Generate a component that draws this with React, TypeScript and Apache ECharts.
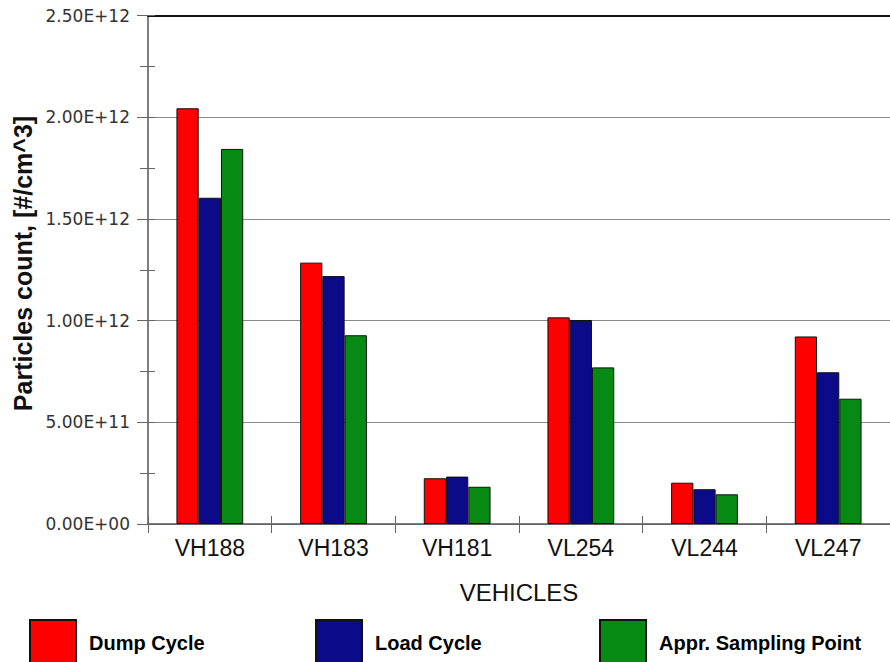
import React, { useEffect, useRef } from "react";
import * as echarts from "echarts";

const categories = ["VH188", "VH183", "VH181", "VL254", "VL244", "VL247"];
const dumpCycle = [2.044e12, 1.285e12, 0.225e12, 1.016e12, 0.203e12, 0.922e12];
const loadCycle = [1.604e12, 1.219e12, 0.233e12, 1.003e12, 0.171e12, 0.746e12];
const apprSampling = [1.844e12, 0.928e12, 0.183e12, 0.77e12, 0.146e12, 0.616e12];
const seriesNames = ["Dump Cycle", "Load Cycle", "Appr. Sampling Point"];
const colors = ["#ff0000", "#0b0b8a", "#078a14"];
const yAxisTitle = "Particles count, [#/cm^3]";
const xAxisTitle = "VEHICLES";

function fmtE(v: number): string {
  const [m, e] = v.toExponential(2).split("e");
  const n = parseInt(e, 10);
  return m + "E" + (n < 0 ? "-" : "+") + String(Math.abs(n)).padStart(2, "0");
}

export default function App() {
  const ref = useRef<HTMLDivElement>(null);
  useEffect(() => {
    if (!ref.current) return;
    const chart = echarts.init(ref.current, undefined, { renderer: "svg" });
    const values = [dumpCycle, loadCycle, apprSampling];
    const legendLefts = [29, 315, 599];
    chart.setOption({
      animation: false,
      backgroundColor: "#ffffff",
      grid: { left: 148, top: 15.5, width: 750, height: 508.5, containLabel: false },
      legend: seriesNames.map((name, i) => ({
        data: [name],
        left: legendLefts[i],
        top: 619,
        padding: 0,
        itemWidth: 46,
        itemHeight: 46,
        icon: "rect",
        selectedMode: false,
        textStyle: {
          fontFamily: "Liberation Sans",
          fontWeight: "bold",
          fontSize: 20,
          color: "#000",
          padding: [0, 0, 0, 8],
        },
      })),
      xAxis: [
        {
          type: "category",
          data: categories,
          position: "bottom",
          name: xAxisTitle,
          nameLocation: "middle",
          nameGap: 56,
          nameTextStyle: { fontFamily: "Liberation Sans", fontSize: 24, color: "#111" },
          axisLine: { show: true, lineStyle: { color: "#555", width: 1.5 } },
          axisTick: { show: true, interval: 0, length: 9, lineStyle: { color: "#666" } },
          axisLabel: {
            interval: 0,
            margin: 12,
            fontFamily: "Liberation Sans",
            fontSize: 23,
            color: "#111",
          },
          splitLine: { show: false },
        },
        {
          type: "category",
          data: categories,
          position: "bottom",
          axisLine: { show: false },
          axisTick: { show: true, inside: true, interval: 0, length: 8, lineStyle: { color: "#666" } },
          axisLabel: { show: false },
          splitLine: { show: false },
        },
        {
          type: "category",
          data: categories,
          position: "top",
          axisLine: { show: true, lineStyle: { color: "#111", width: 2 } },
          axisTick: { show: false },
          axisLabel: { show: false },
          splitLine: { show: false },
        },
      ],
      yAxis: [
        {
          type: "value",
          min: 0,
          max: 2.5e12,
          interval: 0.5e12,
          axisLine: { show: true, lineStyle: { color: "#555", width: 1.5 } },
          axisTick: { show: true, length: 11, lineStyle: { color: "#666" } },
          minorTick: { show: true, splitNumber: 2, length: 8, lineStyle: { color: "#666" } },
          axisLabel: {
            margin: 18,
            fontFamily: "DejaVu Sans",
            fontSize: 17,
            color: "#333",
            formatter: (v: number) => fmtE(v),
          },
          splitLine: { show: true, lineStyle: { color: "#8a8a8a", width: 1.2 } },
        },
        {
          type: "value",
          min: 0,
          max: 2.5e12,
          interval: 0.25e12,
          position: "left",
          axisLine: { show: false },
          axisTick: { show: true, inside: true, length: 7, lineStyle: { color: "#666" } },
          axisLabel: { show: false },
          splitLine: { show: false },
        },
      ],
      graphic: [
        {
          type: "text",
          x: 23,
          y: 263.5,
          rotation: Math.PI / 2,
          style: {
            text: yAxisTitle,
            fontFamily: "Liberation Sans",
            fontWeight: "bold",
            fontSize: 25,
            fill: "#111",
            align: "center",
            verticalAlign: "middle",
          },
        },
      ],
      series: seriesNames.map((name, i) => ({
        name,
        type: "bar",
        xAxisIndex: 0,
        yAxisIndex: 0,
        data: values[i],
        barGap: "0%",
        barCategoryGap: "46%",
        itemStyle: { color: colors[i], borderColor: "#111", borderWidth: 1 },
      })),
    });
    return () => chart.dispose();
  }, []);
  return (
    <div
      ref={ref}
      style={{ position: "absolute", left: 0, top: 0, width: 890, height: 662, background: "#fff" }}
    />
  );
}
